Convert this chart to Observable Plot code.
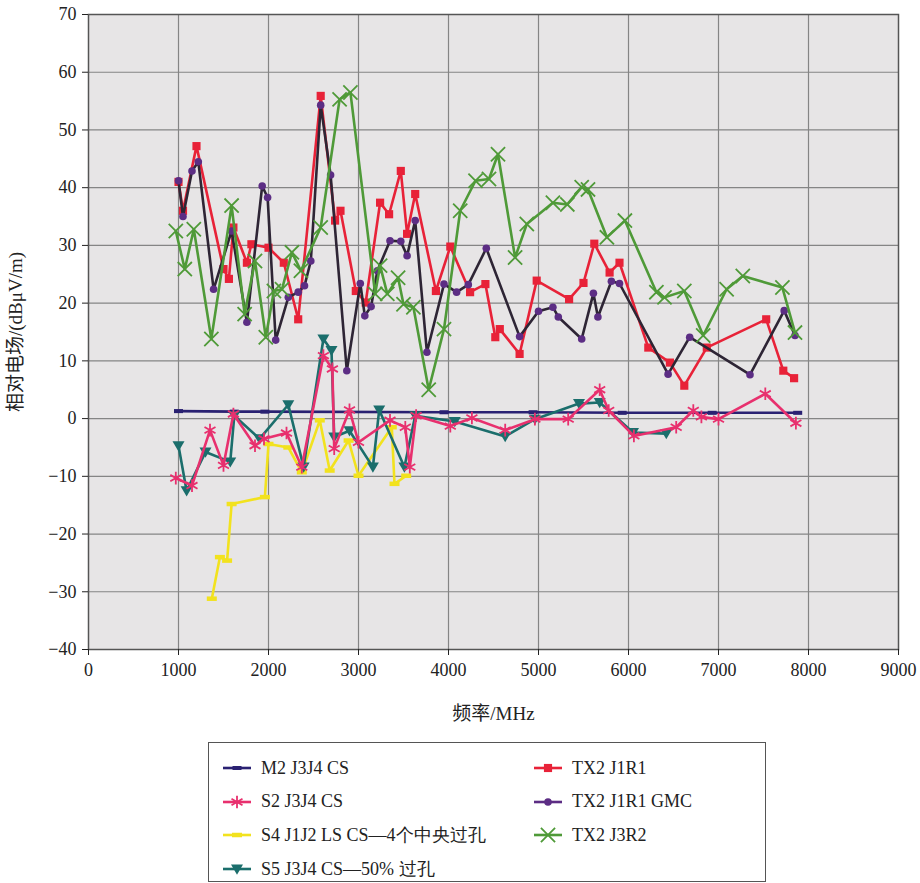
<!DOCTYPE html>
<html>
<head>
<meta charset="utf-8">
<script src="https://cdn.jsdelivr.net/npm/d3@7"></script>
<script src="https://cdn.jsdelivr.net/npm/@observablehq/plot@0.6"></script>
<style>
  body { margin:0; background:#fff; }
  #wrap { position:relative; width:920px; height:883px; }
  #legend { position:absolute; left:208px; top:742px; width:556px; height:138px; border:1.5px solid #555; background:#fff;
    font-family:"Liberation Serif","DejaVu Serif",serif; font-size:18px; color:#222; }
  .item { position:absolute; display:flex; align-items:center; white-space:nowrap; }
  .item svg { margin-right:8px; }
  g[aria-label="x-axis label"] text, g[aria-label="y-axis label"] text { font-size:19px; font-family:"Liberation Serif","Noto Sans CJK SC",serif; }
  g[aria-label="x-axis tick label"] text, g[aria-label="y-axis tick label"] text { font-family:"Liberation Serif",serif; font-size:18px; }
</style>
</head>
<body>
<div id="wrap"><div id="chart"></div><div id="legend"></div></div>
<script>
// ---- axis ticks ----
const xTicks = [0,1000,2000,3000,4000,5000,6000,7000,8000,9000];
const yTicks = [-40,-30,-20,-10,0,10,20,30,40,50,60,70];

// ---- series names ----
const seriesNames = ["M2 J3J4 CS","S2 J3J4 CS","S4 J1J2 LS CS—4个中央过孔","S5 J3J4 CS—50% 过孔","TX2 J1R1","TX2 J1R1 GMC","TX2 J3R2"];

// ---- M2 J3J4 CS ----
const m2Freq = [1000,1620,1960,3950,4940,5930,6930,7880];
const m2Val  = [1.3,1.2,1.2,1.1,1.1,1.0,1.0,1.0];

// ---- S2 J3J4 CS ----
const s2Freq = [970,1150,1350,1500,1610,1850,1950,2200,2370,2610,2710,2730,2900,3000,3350,3520,3570,3640,4020,4260,4630,4960,5330,5680,5780,6060,6530,6720,6810,7000,7520,7860];
const s2Val  = [-10.3,-11.6,-2,-8.1,0.8,-4.7,-3.5,-2.5,-8.4,10.9,8.6,-5.2,1.5,-4.1,-0.3,-1.5,-8.4,0.5,-1.3,0.1,-2,-0.1,-0.1,5,1.4,-3,-1.5,1.4,0.3,-0.1,4.3,-0.8];

// ---- S4 J1J2 LS CS ----
const s4Freq = [1370,1460,1540,1590,1960,2000,2220,2370,2570,2680,2890,3000,3370,3400,3530];
const s4Val  = [-31.2,-24,-24.6,-14.8,-13.6,-4.4,-5,-9.3,-0.3,-9,-3.8,-9.9,-1.5,-11.3,-9.9];

// ---- S5 J3J4 CS ----
const s5Freq = [1000,1090,1300,1575,1620,1900,2220,2390,2610,2700,2730,2900,3160,3230,3510,3630,4070,4630,4960,5450,5680,6050,6420];
const s5Val  = [-4.7,-12.5,-5.8,-7.5,0.5,-3.5,2.4,-8.4,13.8,11.8,-3.2,-2.1,-8.4,1.5,-8.4,0.5,-0.5,-3.1,-0.1,2.6,2.8,-2.4,-2.6];

// ---- TX2 J1R1 ----
const txFreq = [1000,1050,1200,1500,1560,1610,1760,1810,2000,2170,2330,2580,2740,2800,2970,3080,3240,3340,3470,3540,3630,3860,4020,4240,4410,4520,4570,4790,4980,5340,5500,5620,5790,5900,6220,6460,6620,6870,7530,7720,7840];
const txVal  = [41,36,47.2,25.9,24.2,33.1,27,30.2,29.6,27,17.2,55.9,34.3,36,22.1,20.1,37.4,35.4,42.9,32,38.9,22.1,29.8,21.9,23.3,14.1,15.5,11.2,23.9,20.7,23.5,30.3,25.3,27,12.3,9.7,5.7,12.3,17.2,8.3,7];

// ---- TX2 J1R1 GMC ----
const gmcFreq = [1000,1050,1150,1220,1390,1590,1760,1930,1990,2080,2220,2330,2400,2470,2580,2690,2870,3020,3070,3140,3210,3350,3470,3540,3630,3760,3950,4090,4220,4420,4790,5000,5160,5220,5480,5610,5660,5810,5900,6440,6680,7350,7730,7850];
const gmcVal  = [41.2,35,42.9,44.5,22.4,32.5,16.7,40.3,38.3,13.6,21,21.9,23,27.3,54.3,42.2,8.3,23.4,17.8,19.4,25.6,30.8,30.7,28.2,34.3,11.5,23.3,21.9,23.2,29.5,14.2,18.6,19.3,17.6,13.8,21.7,17.6,23.8,23.4,7.7,14.1,7.6,18.7,14.4];

// ---- TX2 J3R2 ----
const j3Freq = [970,1070,1170,1365,1590,1735,1850,1970,2060,2150,2260,2360,2580,2790,2910,3185,3240,3320,3440,3500,3610,3780,3950,4130,4300,4450,4550,4740,4870,5160,5320,5480,5550,5760,5960,6310,6400,6620,6830,7090,7270,7710,7850];
const j3Val  = [32.5,25.9,32.8,13.8,36.9,18.1,27.3,14.1,22.1,22.4,28.8,25.6,33.1,55.3,56.5,21.6,26.5,21.6,24.4,19.8,19.3,5,15.5,36,41.2,41.5,45.8,27.9,33.7,37.4,37.1,40.1,39.7,31.4,34.3,21.9,21,22.1,14.4,22.4,24.7,22.7,14.9];

// ---- custom symbols ----
const triDown = {draw(ctx, size){ const r = Math.sqrt(size/Math.PI); ctx.moveTo(-r,-r*0.75); ctx.lineTo(r,-r*0.75); ctx.lineTo(0,r*0.95); ctx.closePath(); }};
const dash = {draw(ctx, size){ const r = Math.sqrt(size/Math.PI); ctx.rect(-r,-r*0.45,2*r,r*0.9); }};

const styles = [
  {name:seriesNames[0], freq:m2Freq,  val:m2Val,  line:"#2a2172", mark:"#2a2172", symbol:dash,     r:4.5, filled:true},
  {name:seriesNames[2], freq:s4Freq,  val:s4Val,  line:"#f2e21e", mark:"#f2e21e", symbol:dash,     r:5,   filled:true},
  {name:seriesNames[3], freq:s5Freq,  val:s5Val,  line:"#1b6e6c", mark:"#1b6e6c", symbol:triDown,  r:6,   filled:true},
  {name:seriesNames[1], freq:s2Freq,  val:s2Val,  line:"#e8306e", mark:"#e8306e", symbol:"asterisk", r:6, filled:false},
  {name:seriesNames[4], freq:txFreq,  val:txVal,  line:"#e82238", mark:"#e82238", symbol:"square", r:4.6,  filled:true},
  {name:seriesNames[5], freq:gmcFreq, val:gmcVal, line:"#2e2535", mark:"#5c2d84", symbol:"circle", r:3.8,  filled:true},
  {name:seriesNames[6], freq:j3Freq,  val:j3Val,  line:"#4f9a38", mark:"#4f9a38", symbol:"times",  r:6.5,  filled:false}
];

const marks = [
  Plot.frame({fill:"#e7e5e6"}),
  Plot.gridX(xTicks.slice(1,-1), {stroke:"#858585", strokeOpacity:1, strokeWidth:1.2}),
  Plot.gridY(yTicks.slice(1,-1), {stroke:"#858585", strokeOpacity:1, strokeWidth:1.2}),
  Plot.frame({stroke:"#555", strokeWidth:1.5}),
  Plot.axisX(xTicks, {tickSize:6, tickPadding:8, label:"频率/MHz", labelAnchor:"center", labelOffset:70, labelArrow:"none", tickFormat:d=>String(d)}),
  Plot.axisY(yTicks, {tickSize:6, tickPadding:6, label:"相对电场/(dBμV/m)", labelAnchor:"center", labelOffset:80, labelArrow:"none", tickFormat:d=> d<0 ? "\u2212"+(-d) : String(d)})
];
for (const s of styles) {
  const data = s.freq.map((f,i)=>({f, v:s.val[i]}));
  marks.push(Plot.line(data, {x:"f", y:"v", stroke:s.line, strokeWidth:2.6}));
  if (s.filled) marks.push(Plot.dot(data, {x:"f", y:"v", symbol:s.symbol, r:s.r, fill:s.mark, stroke:"none"}));
  else marks.push(Plot.dot(data, {x:"f", y:"v", symbol:s.symbol, r:s.r, stroke:s.mark, strokeWidth:1.8, fill:"none"}));
}

const chart = Plot.plot({
  width:920, height:730,
  marginLeft:88, marginRight:22, marginTop:14, marginBottom:81,
  style:{fontFamily:"'Liberation Serif', serif", fontSize:"18px", background:"#fff", color:"#222"},
  x:{domain:[0,9000]},
  y:{domain:[-40,70]},
  marks
});
document.getElementById("chart").appendChild(chart);

// ---- legend ----
const legendOrder = [
  {idx:0, col:0, row:0},{idx:3, col:0, row:1},{idx:1, col:0, row:2},{idx:2, col:0, row:3},
  {idx:4, col:1, row:0},{idx:5, col:1, row:1},{idx:6, col:1, row:2}
];
const legend = document.getElementById("legend");
const ns = "http://www.w3.org/2000/svg";
for (const e of legendOrder) {
  const s = styles[e.idx];
  const item = document.createElement("div");
  item.className = "item";
  item.style.left = (e.col ? 323 : 12) + "px";
  item.style.top = (25 + e.row*33.5 - 11) + "px";
  item.style.height = "22px";
  const svg = document.createElementNS(ns, "svg");
  svg.setAttribute("width", 32); svg.setAttribute("height", 22);
  const ln = document.createElementNS(ns, "line");
  ln.setAttribute("x1", 2); ln.setAttribute("x2", 30); ln.setAttribute("y1", 11); ln.setAttribute("y2", 11);
  ln.setAttribute("stroke", e.idx===5 ? s.mark : s.line); ln.setAttribute("stroke-width", 2.6);
  svg.appendChild(ln);
  const p = document.createElementNS(ns, "path");
  const sym = typeof s.symbol === "string" ? ({square:d3.symbolSquare, circle:d3.symbolCircle, asterisk:d3.symbolAsterisk, times:d3.symbolTimes})[s.symbol] : s.symbol;
  p.setAttribute("d", d3.symbol(sym, s.r*s.r*Math.PI)());
  p.setAttribute("transform", "translate(16,11)");
  if (s.filled) p.setAttribute("fill", s.mark);
  else { p.setAttribute("fill","none"); p.setAttribute("stroke", s.mark); p.setAttribute("stroke-width", 1.8); }
  svg.appendChild(p);
  item.appendChild(svg);
  const t = document.createElement("span");
  t.textContent = s.name;
  item.appendChild(t);
  legend.appendChild(item);
}
</script>
</body>
</html>
